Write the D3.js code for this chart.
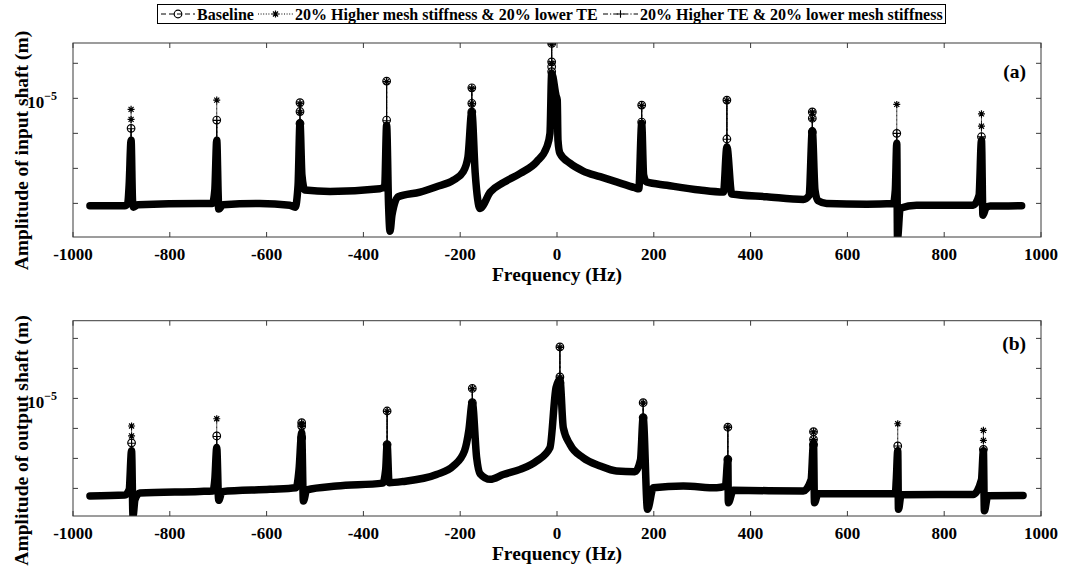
<!DOCTYPE html>
<html>
<head>
<meta charset="utf-8">
<script src="https://cdn.jsdelivr.net/npm/d3@7"></script>
<style>
  html, body { margin: 0; padding: 0; background: #fff; }
  svg { display: block; }
  text { font-family: "Liberation Serif", "Times New Roman", serif; font-weight: bold; fill: #000; }
</style>
</head>
<body>
<svg id="chart" width="1065" height="574"></svg>
<script>
// ---------- data ----------
const seriesNames = [
  "Baseline",
  "20% Higher mesh stiffness & 20% lower TE",
  "20% Higher TE & 20% lower mesh stiffness"
];
const xTicks = [-1000, -800, -600, -400, -200, 0, 200, 400, 600, 800, 1000];
const yTickLabel = 1e-5;

// (a) input shaft: spectrum envelope (Hz, m)
const freqA = [-965, -893, -887, -884, -880, -877, -875, -866, -738, -712, -707, -703, -700, -699, -690,
  -614, -552, -541, -535, -531, -527, -521, -469, -366, -356, -352, -348, -345, -341, -328, -283, -249,
  -214, -194, -184, -176, -169, -159, -138, -111, -76, -42, -21, -14.5, -11, -2, 0.5, 2, 6, 27, 54, 89,
  123, 161, 169, 175, 179, 185, 227, 295, 344, 351, 361, 433, 509, 521, 527.5, 533, 539, 557, 640, 695,
  699, 702, 703.5, 709, 743, 860, 872, 877, 880, 886, 895, 960];
const ampA = [8.5e-9, 8.6e-9, 1.0e-8, 3.3e-8, 6.4e-7, 1.2e-8, 7.8e-9, 9.2e-9, 9.9e-9, 9.9e-9, 2.4e-8, 6.4e-7, 1.7e-8, 6.9e-9, 9.2e-9,
  1.0e-8, 8.9e-9, 7.8e-9, 3.3e-8, 2.0e-6, 6.4e-8, 2.4e-8, 2.2e-8, 2.6e-8, 3.1e-8, 1.7e-6, 8.9e-9, 1.6e-9, 4.6e-9, 1.55e-8, 2.1e-8, 3.0e-8,
  4.6e-8, 8.0e-8, 2.1e-7, 4.1e-6, 7.3e-8, 7.2e-9, 2.1e-8, 3.9e-8, 7.2e-8, 1.55e-7, 4.1e-7, 1.0e-6, 5.2e-5, 1.2e-5, 9.0e-6, 6.4e-7, 2.7e-7, 1.4e-7, 8.4e-8, 5.8e-8,
  4.1e-8, 2.8e-8, 2.6e-8, 1.9e-6, 6.4e-8, 4.1e-8, 3.3e-8, 2.4e-8, 2.1e-8, 4.1e-7, 1.85e-8, 1.55e-8, 1.3e-8, 1.7e-8, 1.2e-6, 2.4e-8, 1.2e-8, 1.0e-8, 9.5e-9, 1.0e-8,
  2.4e-8, 5.2e-7, 1.0e-9, 7.3e-9, 8.9e-9, 8.9e-9, 1.7e-8, 6.4e-7, 4.6e-9, 7.3e-9, 8.4e-9, 8.5e-9];

// (a) resonance peaks and the markers at their tips, one list per series
const peakFreqA = [-880, -703, -531, -352, -176, -11, 175, 351, 527.5, 702, 877];
const baselineTipsA = [[1.39e-6], [2.4e-6], [7.5e-6, 4.2e-6, 1.9e-6], [3.1e-5, 2.4e-6], [2.0e-5, 7.2e-6, 4.1e-6],
  [3.7e-4, 1.1e-4, 8.0e-5, 5.8e-5], [6.4e-6, 2.1e-6], [8.9e-6, 6.9e-7], [4.1e-6, 2.7e-6, 1.1e-6], [1.0e-6], [8.0e-7]];
const stiffTipsA = [[4.85e-6, 2.5e-6], [8.9e-6], [7.0e-6, 4.0e-6], [3.0e-5], [1.9e-5, 7.0e-6],
  [3.5e-4, 1.0e-4], [6.2e-6, 2.0e-6], [8.6e-6], [4.0e-6, 2.6e-6], [6.7e-6], [3.6e-6, 1.6e-6]];
const teTipsA = [[1.35e-6], [2.35e-6], [7.3e-6, 4.0e-6], [3.0e-5, 2.3e-6], [2.0e-5, 7.0e-6],
  [3.6e-4, 1.1e-4], [6.3e-6, 2.1e-6], [8.8e-6, 6.8e-7], [4.1e-6, 1.1e-6], [1.0e-6], [8.0e-7]];

// (b) output shaft: spectrum envelope (Hz, m)
const freqB = [-965, -893, -884, -879, -876, -872, -862, -738, -711, -707, -703, -699, -692, -593, -539, -533,
  -527.5, -524, -517, -455, -360, -354, -351, -347, -318, -249, -214, -191, -182, -175, -166, -159, -138, -111,
  -76, -42, -14.5, -2, 6, 13, 27, 54, 89, 123, 161, 172.5, 178, 187, 199, 261, 330, 348, 353, 354, 364, 509,
  525, 530, 532, 539, 640, 699, 701, 704, 705.5, 711, 860, 877, 881, 883, 890, 963];
const ampB = [5.6e-9, 6.0e-9, 9.0e-9, 1.8e-7, 1.2e-9, 4.2e-9, 7.0e-9, 7.9e-9, 8.2e-9, 1.95e-8, 2.3e-7, 4.0e-9, 7.8e-9, 9.3e-9, 1.05e-8, 4.2e-8,
  7.2e-7, 3.8e-9, 9.0e-9, 1.2e-8, 1.5e-8, 4.2e-8, 2.9e-7, 1.55e-8, 1.7e-8, 2.9e-8, 5.6e-8, 1.8e-7, 9.0e-7, 7.2e-6, 1.05e-7, 3.1e-8, 2.0e-8, 2.9e-8,
  4.3e-8, 8.2e-8, 2.3e-7, 2.3e-5, 4.2e-5, 1.05e-6, 2.9e-7, 1.05e-7, 5.6e-8, 3.8e-8, 3.6e-8, 9.0e-8, 2.3e-6, 2.0e-9, 1.05e-8, 1.2e-8, 1.05e-8, 1.2e-8, 9.3e-8, 3.3e-9, 8.6e-9, 8.2e-9,
  1.95e-8, 3.3e-7, 3.3e-9, 6.6e-9, 6.6e-9, 6.6e-9, 1.95e-8, 1.8e-7, 2.0e-9, 6.2e-9, 6.3e-9, 1.95e-8, 1.8e-7, 1.8e-9, 5.7e-9, 5.8e-9];

// (b) resonance peaks and the markers at their tips, one list per series
const peakFreqB = [-879, -703, -527.5, -351, -175, 6, 178, 353, 530, 704, 881];
const baselineTipsB = [[3.3e-7], [5.6e-7], [1.55e-6, 1.2e-6, 4.9e-7], [3.8e-6, 2.9e-7], [2.15e-5, 7.2e-6],
  [5.2e-4, 5.2e-5, 3.3e-5], [7.2e-6, 2.3e-6], [1.1e-6, 9.3e-8], [7.8e-7, 4.3e-7, 2.9e-7], [2.6e-7], [2.0e-7]];
const stiffTipsB = [[1.2e-6, 5.6e-7], [2.1e-6], [1.5e-6, 1.15e-6], [3.7e-6], [2.1e-5, 7.0e-6],
  [5.0e-4, 5.0e-5], [7.0e-6, 2.2e-6], [1.08e-6], [7.6e-7, 4.2e-7], [1.43e-6], [8.6e-7, 4.0e-7]];
const teTipsB = [[3.2e-7], [5.4e-7], [1.5e-6, 4.8e-7], [3.7e-6, 2.9e-7], [2.1e-5, 7.0e-6],
  [5.1e-4, 5.1e-5], [7.0e-6, 2.2e-6], [1.1e-6, 9.0e-8], [7.7e-7, 2.9e-7], [2.6e-7], [2.0e-7]];

// ---------- drawing ----------
const svg = d3.select("#chart");
const INK = "#000";
const AXIS = "#3a3a3a";

// marker glyphs
function drawCircle(g, x, y) {
  g.append("circle").attr("cx", x).attr("cy", y).attr("r", 3.8)
    .attr("fill", "none").attr("stroke", INK).attr("stroke-width", 1.2);
}
function drawStar(g, x, y) {
  const r = 3.5, d = r * 0.72;
  const p = `M${x - r},${y}H${x + r}M${x},${y - r}V${y + r}M${x - d},${y - d}L${x + d},${y + d}M${x - d},${y + d}L${x + d},${y - d}`;
  g.append("path").attr("d", p).attr("fill", "none").attr("stroke", INK).attr("stroke-width", 1.2);
}
function drawPlus(g, x, y) {
  const r = 3.8;
  g.append("path").attr("d", `M${x - r},${y}H${x + r}M${x},${y - r}V${y + r}`)
    .attr("fill", "none").attr("stroke", INK).attr("stroke-width", 1.1);
}

// dash period is used to offset the returning half of each peak stem
const series = [
  { dash: "5,3", period: 8, marker: drawCircle },
  { dash: "1,1.6", period: 2.6, marker: drawStar },
  { dash: "5,2,1.2,2", period: 10.2, marker: drawPlus }
];

function panel(cfg) {
  const x = d3.scaleLinear().domain([-1000, 1000]).range([73, 1041]);
  const y = d3.scaleLog().domain(cfg.yDomain).range([cfg.bottom, cfg.top]);
  const g = svg.append("g");
  const clipId = "clip-" + cfg.id;

  svg.append("clipPath").attr("id", clipId).append("rect")
    .attr("x", 73).attr("y", cfg.top).attr("width", 1041 - 73).attr("height", cfg.bottom - cfg.top);

  const plot = g.append("g").attr("clip-path", `url(#${clipId})`);

  // spectrum envelope: the three runs overlap into one thick band
  const pts = cfg.freq.map((f, i) => [f, cfg.amp[i]]);
  const line = d3.line().x(d => x(d[0])).y(d => y(d[1])).curve(d3.curveMonotoneX);
  plot.append("path").datum(pts).attr("d", line)
    .attr("fill", "none").attr("stroke", INK).attr("stroke-width", 7.5)
    .attr("stroke-linejoin", "round").attr("stroke-linecap", "round");

  // peak tips: each run climbs to its tip and comes back down, then its markers
  const bandTop = f => d3.max(pts.filter(p => Math.abs(p[0] - f) < 4), p => p[1]);
  cfg.tips.forEach((tipList, s) => {
    const st = series[s];
    cfg.peaks.forEach((f, k) => {
      const vals = tipList[k];
      const hi = d3.max(vals);
      const px = x(f);
      [0, st.period / 2].forEach(off => {
        plot.append("line").attr("x1", px).attr("x2", px)
          .attr("y1", y(bandTop(f))).attr("y2", y(hi))
          .attr("stroke", INK).attr("stroke-width", 1)
          .attr("stroke-dasharray", st.dash).attr("stroke-dashoffset", off);
      });
      vals.forEach(v => st.marker(plot, px, y(v)));
    });
  });

  // frame
  g.append("rect").attr("x", 73).attr("y", cfg.top).attr("width", 1041 - 73).attr("height", cfg.bottom - cfg.top)
    .attr("fill", "none").attr("stroke", AXIS).attr("stroke-width", 1);

  // x ticks (inside, bottom and top)
  const tl = 5;
  xTicks.forEach(t => {
    const px = x(t);
    g.append("line").attr("x1", px).attr("x2", px).attr("y1", cfg.bottom).attr("y2", cfg.bottom - tl).attr("stroke", AXIS);
    g.append("line").attr("x1", px).attr("x2", px).attr("y1", cfg.top).attr("y2", cfg.top + tl).attr("stroke", AXIS);
    g.append("text").attr("x", px).attr("y", cfg.bottom + 23).attr("text-anchor", "middle")
      .attr("font-size", 17).text(t);
  });

  // y ticks at every decade (inside, left and right)
  const [lo, hi] = cfg.yDomain;
  for (let e = Math.ceil(Math.log10(lo)); e <= Math.floor(Math.log10(hi)); e++) {
    const py = y(Math.pow(10, e));
    g.append("line").attr("x1", 73).attr("x2", 73 + tl).attr("y1", py).attr("y2", py).attr("stroke", AXIS);
    g.append("line").attr("x1", 1041).attr("x2", 1041 - tl).attr("y1", py).attr("y2", py).attr("stroke", AXIS);
  }
  const ly = y(yTickLabel);
  const lab = g.append("text").attr("x", 57).attr("y", ly + 10).attr("text-anchor", "end").attr("font-size", 17);
  lab.append("tspan").text("10");
  lab.append("tspan").attr("font-size", 12).attr("dy", -8).text("\u22125");

  // axis titles
  g.append("text").attr("x", 557).attr("y", cfg.bottom + 44).attr("text-anchor", "middle")
    .attr("font-size", 19.5).text("Frequency (Hz)");
  g.append("text").attr("transform", `translate(28,${cfg.yTitleMid}) rotate(-90)`)
    .attr("text-anchor", "middle").attr("font-size", 19.5).text(cfg.yTitle);

  // panel tag
  g.append("text").attr("x", 1026).attr("y", cfg.tagY).attr("text-anchor", "end")
    .attr("font-size", 19.5).text(cfg.tag);
}

panel({
  id: "a", top: 43, bottom: 237, yDomain: [Math.pow(10, -8.96), Math.pow(10, -3.42)],
  freq: freqA, amp: ampA, peaks: peakFreqA, tips: [baselineTipsA, stiffTipsA, teTipsA],
  yTitle: "Amplitude of input shaft (m)", yTitleMid: 150.5, tag: "(a)", tagY: 78
});
panel({
  id: "b", top: 320.7, bottom: 516, yDomain: [Math.pow(10, -8.92), Math.pow(10, -2.41)],
  freq: freqB, amp: ampB, peaks: peakFreqB, tips: [baselineTipsB, stiffTipsB, teTipsB],
  yTitle: "Amplitude of output shaft (m)", yTitleMid: 440.5, tag: "(b)", tagY: 350
});

// ---------- legend ----------
const leg = svg.append("g");
leg.append("rect").attr("x", 157.5).attr("y", 4.5).attr("width", 788).attr("height", 19)
  .attr("fill", "#fff").attr("stroke", INK).attr("stroke-width", 1);
const legItems = [
  { x0: 161, x1: 195, text: 197 },
  { x0: 258, x1: 293, text: 295 },
  { x0: 603, x1: 638, text: 640 }
];
legItems.forEach((it, s) => {
  const st = series[s];
  const cy = 14;
  leg.append("line").attr("x1", it.x0).attr("x2", it.x1).attr("y1", cy).attr("y2", cy)
    .attr("stroke", INK).attr("stroke-width", 1).attr("stroke-dasharray", st.dash);
  st.marker(leg, (it.x0 + it.x1) / 2, cy);
  leg.append("text").attr("x", it.text).attr("y", cy + 5.5).attr("font-size", 16).text(seriesNames[s]);
});
</script>
</body>
</html>
